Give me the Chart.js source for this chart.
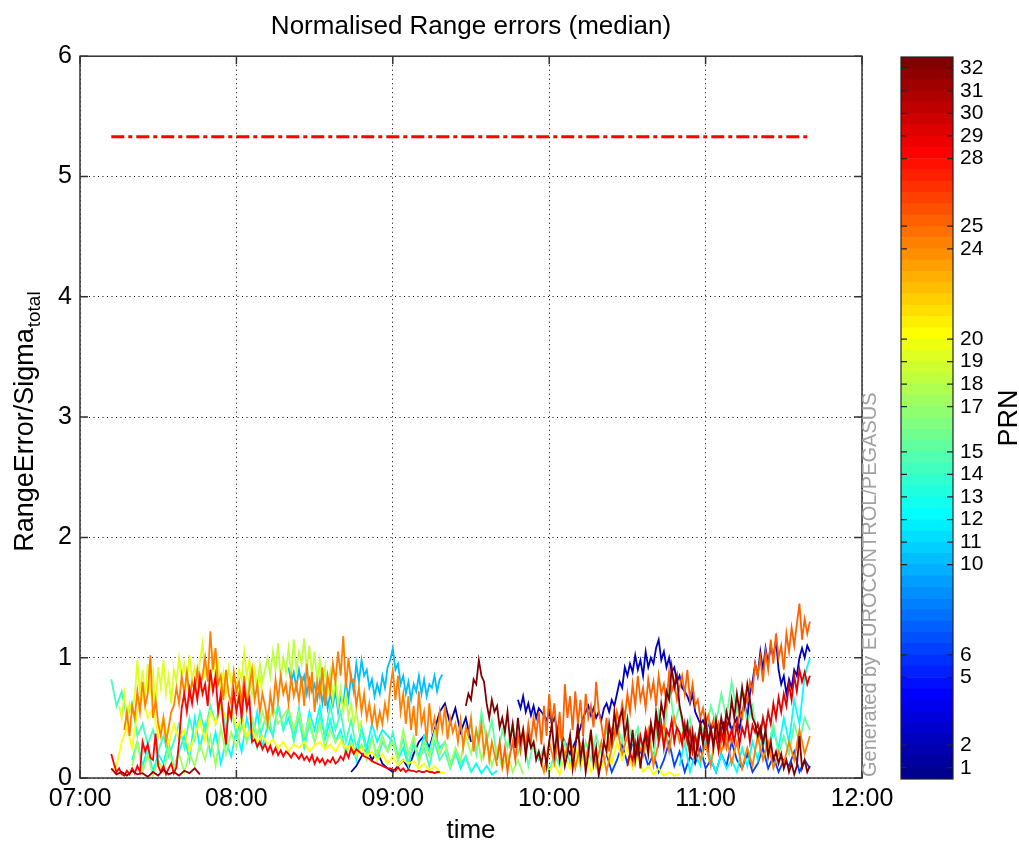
<!DOCTYPE html>
<html>
<head>
<meta charset="utf-8">
<script src="https://cdn.jsdelivr.net/npm/chart.js@4.4.1/dist/chart.umd.min.js"></script>
<style>
  body { margin: 0; background: #fff; }
  #wrap { position: relative; width: 1019px; height: 846px; }
  #wrap canvas { position: absolute; left: 0; top: 0; }
</style>
</head>
<body>
<div id="wrap">
  <canvas id="grafico" width="1019" height="846"></canvas>
  <canvas id="barra" width="1019" height="846"></canvas>
</div>
<script>
// tempos em minutos depois das 07:00
const prnTicks = [1, 2, 5, 6, 10, 11, 12, 13, 14, 15, 17, 18, 19, 20, 24, 25, 28, 29, 30, 31, 32];
const threshold = [5.33, 5.33];
const thresholdTimes = [12, 279];

// PRN 28, 07:12 - 09:18, 1 min
const prn28 = [0.2, 0.12, 0.05, 0.08, 0.03,
  0.02, 0.06, 0.03, 0.08, 0.04, 0.1, 0.05,
  0.3, 0.22, 0.28, 0.17, 0.15, 0.37, 0.1,
  0.05, 0.1, 0.03, 0.08, 0.12, 0.04, 0.09,
  0.3, 0.58, 0.7, 0.55, 0.74, 0.62,
  0.8, 0.65, 0.84, 0.7, 0.78,
  0.6, 0.9, 0.72, 0.85, 0.55,
  0.7, 0.45, 0.28, 0.6, 0.5,
  0.72, 0.55, 0.68, 0.5, 0.75, 0.58, 0.66, 0.3,
  0.32, 0.26, 0.3, 0.24, 0.28, 0.22, 0.27, 0.2, 0.25, 0.19, 0.23, 0.18, 0.22, 0.2, 0.17, 0.21, 0.19, 0.16,
  0.2, 0.15, 0.18, 0.14, 0.19, 0.12, 0.17, 0.13, 0.16, 0.11, 0.15, 0.13, 0.17, 0.12, 0.14, 0.18, 0.15, 0.22, 0.17, 0.25, 0.2, 0.24,
  0.22, 0.2, 0.18, 0.17, 0.16, 0.14, 0.13, 0.12, 0.11, 0.1, 0.09, 0.08, 0.08, 0.07,
  0.06, 0.09, 0.06, 0.08, 0.05, 0.07, 0.06, 0.06, 0.05, 0.06, 0.05, 0.05, 0.06, 0.05, 0.05, 0.04, 0.05, 0.05];

// PRN 24, 07:17 - 09:40, 1 min
const prn24 = [0.4, 0.55, 0.35, 0.6, 0.5,
  0.72, 0.55, 0.8, 0.6, 0.7, 1.02, 0.5, 0.65,
  0.45, 0.35, 0.5, 0.3, 0.42, 0.55, 0.6,
  0.75, 0.62, 0.85, 0.7, 0.88, 0.68, 0.8, 0.72, 0.9, 0.75,
  0.85, 1.0, 0.8, 1.22, 0.9, 1.08, 0.78,
  0.85, 0.65, 0.9, 0.7, 0.62, 0.88, 0.72,
  0.8, 0.62, 0.85, 0.58, 0.75, 0.9, 0.65, 0.78, 0.55, 0.7, 0.6, 0.45,
  0.7, 0.55, 0.82, 0.65, 0.85, 0.7, 0.78, 0.62, 0.84, 0.68, 0.78, 0.64,
  0.85, 0.6, 0.95, 0.7, 0.88, 0.55, 0.8, 0.68, 0.92, 0.6, 0.85, 0.72, 0.95,
  0.8, 1.05, 0.85, 1.18, 0.75, 1.0, 0.8,
  0.82, 0.6, 0.75, 0.55, 0.7, 0.5, 0.62, 0.45, 0.58, 0.42,
  0.55, 0.45, 0.62, 0.5, 0.75, 0.9, 0.65, 0.85, 0.55, 0.7,
  0.45, 0.68, 0.4, 0.6, 0.35, 0.72, 0.45, 0.55, 0.3, 0.62, 0.4, 0.5, 0.35,
  0.55, 0.4, 0.6, 0.32, 0.5, 0.38, 0.45,
  0.3, 0.48, 0.25, 0.42, 0.35, 0.5, 0.22, 0.4, 0.3, 0.45, 0.2,
  0.35, 0.15, 0.3, 0.2, 0.1];

// PRN 24, 09:56 - 11:40, 2 min
const prn24b = [0.2, 0.05, 0.3, 0.12, 0.4, 0.18, 0.35, 0.08, 0.28, 0.15,
  0.38, 0.1, 0.3, 0.05, 0.25, 0.42, 0.2, 0.35, 0.12, 0.3,
  0.18, 0.4, 0.1, 0.3, 0.45, 0.22, 0.5, 0.3, 0.42, 0.2,
  0.35, 0.15, 0.28, 0.1, 0.4, 0.22, 0.35, 0.12, 0.3, 0.08,
  0.25, 0.1, 0.35, 0.15, 0.3, 0.08, 0.22, 0.12, 0.3, 0.15,
  0.4, 0.2, 0.35];

// PRN 19, 07:15 - 08:10, 1 min
const prn19 = [0.6, 0.5, 0.7, 0.48, 0.62, 0.55, 0.68,
  0.98, 0.7, 0.9,
  0.65, 0.95, 0.72, 0.88, 0.6, 0.92, 0.75, 0.98, 0.7, 0.85, 0.62, 0.9,
  0.8, 1.0, 0.85, 0.95, 0.78, 1.02, 0.82, 0.92, 0.8, 0.97, 1.12, 0.85,
  0.9, 0.78, 1.05, 0.82, 0.95, 0.75, 0.88, 0.7, 0.92, 0.8, 0.85, 0.75,
  0.9, 0.82, 1.05, 0.85, 0.98, 0.8, 0.9, 0.72, 0.85, 0.7];

// PRN 18, 08:00 - 08:48, 1 min
const prn18 = [0.6, 0.75, 0.55, 0.8, 0.65, 0.85, 0.7, 0.9, 0.75, 0.95, 0.8,
  0.9, 1.0, 0.85, 1.05, 0.9, 1.12, 0.82, 1.0, 0.88, 1.08, 0.85, 1.15, 0.9, 1.05,
  0.95, 1.16, 0.9, 1.1, 0.85, 1.05, 0.8, 0.98, 0.75, 0.92, 0.7, 0.88, 0.65,
  0.82, 0.6, 0.75, 0.55, 0.7, 0.5, 0.62, 0.45, 0.55, 0.4, 0.48];

// PRN 10, 08:20 - 09:19, 1 min
const prn10 = [0.92, 0.8, 0.88, 0.75, 0.9, 0.78, 0.85, 0.7, 0.82, 0.72,
  0.78, 0.65, 0.8, 0.62, 0.75, 0.58, 0.7, 0.6, 0.72, 0.55,
  0.68, 0.6, 0.8, 0.65, 0.85, 0.72, 0.95, 0.8, 0.98, 0.85,
  0.9, 0.75, 0.82, 0.68, 0.78, 0.7, 0.85, 0.75, 0.92, 0.98,
  1.08, 0.9, 0.95, 0.78, 0.85, 0.7, 0.8, 0.65, 0.78, 0.72,
  0.85, 0.7, 0.82, 0.68, 0.78, 0.75, 0.85, 0.72, 0.82, 0.86];

// PRN 14, 07:12 - 09:30, 2 min
const prn14 = [0.82, 0.6, 0.72, 0.5, 0.62, 0.35, 0.45, 0.28, 0.4, 0.22,
  0.35, 0.18, 0.3, 0.45, 0.25, 0.5, 0.32, 0.55, 0.38, 0.6,
  0.45, 0.65, 0.4, 0.58, 0.35, 0.52, 0.3, 0.48, 0.25, 0.42,
  0.55, 0.35, 0.62, 0.4, 0.58, 0.3, 0.5, 0.25, 0.45, 0.3,
  0.52, 0.35, 0.6, 0.4, 0.55, 0.3, 0.48, 0.25, 0.4, 0.2,
  0.35, 0.15, 0.3, 0.22, 0.38, 0.18, 0.32, 0.12, 0.28, 0.15,
  0.25, 0.1, 0.3, 0.15, 0.22, 0.08, 0.2, 0.12, 0.18, 0.05];

// PRN 12, 07:20 - 09:40, 2 min
const prn12 = [0.15, 0.3, 0.1, 0.25, 0.05, 0.2, 0.12, 0.3, 0.08, 0.22,
  0.35, 0.15, 0.5, 0.25, 0.45, 0.2, 0.38, 0.12, 0.3, 0.18,
  0.4, 0.22, 0.5, 0.3, 0.55, 0.25, 0.45, 0.35, 0.6, 0.4,
  0.5, 0.35, 0.58, 0.3, 0.55, 0.4, 0.6, 0.32, 0.48, 0.3,
  0.4, 0.2, 0.35, 0.15, 0.42, 0.25, 0.45, 0.3, 0.4, 0.35,
  0.3, 0.15, 0.25, 0.1, 0.3, 0.18, 0.35, 0.22, 0.38, 0.25,
  0.3, 0.12, 0.22, 0.08, 0.18, 0.05, 0.12, 0.04, 0.1, 0.03, 0.06];

// PRN 12, 10:50 - 11:40, 2 min
const prn12b = [0.1, 0.3, 0.05, 0.2, 0.1, 0.35, 0.15, 0.05, 0.2, 0.08,
  0.15, 0.05, 0.25, 0.1, 0.3, 0.15, 0.35, 0.2, 0.4, 0.25,
  0.5, 0.3, 0.65, 0.45, 0.85, 1.0];

// PRN 20, 07:12 - 09:20, 2 min
const prn20 = [0.05, 0.1, 0.3, 0.42, 0.25, 0.55, 0.68, 0.5, 0.58, 0.35,
  0.5, 0.28, 0.45, 0.32, 0.4, 0.22, 0.35, 0.48, 0.3, 0.55,
  0.45, 0.6, 0.5, 0.58, 0.42, 0.5, 0.35, 0.4, 0.3, 0.35,
  0.28, 0.32, 0.25, 0.3, 0.22, 0.28, 0.25, 0.3, 0.22, 0.27,
  0.3, 0.24, 0.28, 0.22, 0.3, 0.25, 0.27, 0.2, 0.25, 0.18,
  0.22, 0.15, 0.2, 0.12, 0.18, 0.1, 0.15, 0.12, 0.14, 0.08,
  0.12, 0.06, 0.1, 0.05, 0.04];

// PRN 20, 10:00 - 10:50, 2 min
const prn20b = [0.05, 0.12, 0.03, 0.18, 0.08, 0.25, 0.1, 0.2, 0.05, 0.15,
  0.08, 0.22, 0.12, 0.3, 0.15, 0.25, 0.08, 0.18, 0.05, 0.1,
  0.03, 0.08, 0.02, 0.05, 0.02, 0.03];

// PRN 31, 07:12 - 07:46, 2 min
const prn31 = [0.08, 0.03, 0.05, 0.02, 0.06, 0.03, 0.04, 0.01, 0.05, 0.02,
  0.07, 0.03, 0.05, 0.02, 0.06, 0.04, 0.08, 0.03];

// PRN 32, 09:28 - 11:40, 1 min
const prn32 = [0.6, 0.7, 0.65, 0.82, 0.78, 0.98, 0.85, 0.8, 0.62, 0.5,
  0.65, 0.55, 0.6, 0.42, 0.5, 0.38, 0.55, 0.3, 0.45, 0.25,
  0.5, 0.3, 0.4, 0.18, 0.35, 0.25, 0.3, 0.15, 0.22, 0.12,
  0.25, 0.1, 0.3, 0.45, 0.2, 0.38, 0.15, 0.28, 0.1, 0.2,
  0.35, 0.08, 0.25, 0.45, 0.15, 0.3, 0.05, 0.2, 0.4, 0.12,
  0.25, 0.02, 0.15, 0.3, 0.22, 0.45, 0.3, 0.55, 0.38, 0.5,
  0.56, 0.35, 0.48, 0.2, 0.4, 0.15, 0.32, 0.08, 0.28, 0.35,
  0.2, 0.45, 0.3, 0.55, 0.4, 0.62, 0.5, 0.72, 0.65, 0.92,
  0.75, 0.85, 0.6, 0.5, 0.35, 0.45, 0.2, 0.38, 0.15, 0.3,
  0.45, 0.28, 0.5, 0.3, 0.42, 0.25, 0.48, 0.32, 0.5, 0.38,
  0.55, 0.45, 0.65, 0.5, 0.7, 0.55, 0.75, 0.6, 0.78, 0.65,
  0.5, 0.45, 0.35, 0.42, 0.28, 0.4, 0.18, 0.3, 0.15, 0.22,
  0.12, 0.2, 0.08, 0.15, 0.05, 0.12, 0.03, 0.1, 0.35, 0.08, 0.15, 0.05, 0.1];

// PRN 2, 09:48 - 11:40, 1 min
const prn2 = [0.65, 0.58, 0.68, 0.55, 0.62, 0.52, 0.6, 0.5, 0.58, 0.55,
  0.52, 0.48, 0.55, 0.45, 0.5, 0.42, 0.4, 0.35, 0.3, 0.25,
  0.2, 0.25, 0.3, 0.35, 0.42, 0.5, 0.55, 0.6, 0.52, 0.58,
  0.5, 0.55, 0.48, 0.58, 0.62, 0.55, 0.65, 0.6, 0.7, 0.8,
  0.75, 0.92, 0.85, 0.95, 0.88, 1.02, 0.9, 0.98, 0.85, 1.05,
  0.92, 1.0, 0.95, 1.08, 1.15, 0.98, 1.05, 0.92, 1.0, 0.88,
  0.92, 0.8, 0.85, 0.75, 0.72, 0.68, 0.62, 0.7, 0.55, 0.5,
  0.45, 0.48, 0.42, 0.45, 0.4, 0.44, 0.38, 0.45, 0.4, 0.46,
  0.42, 0.48, 0.4, 0.45, 0.5, 0.4, 0.55, 0.62, 0.5, 0.7,
  0.8, 0.95, 0.85, 1.05, 0.9, 1.08, 0.95, 1.1, 1.0, 1.15,
  0.9, 0.78, 0.85, 0.7, 0.82, 0.75, 0.9, 0.85, 1.0, 1.08,
  1.0, 1.1, 1.05];

// PRN 25, 09:40 - 11:40, 1 min
const prn25 = [0.15, 0.3, 0.1, 0.25, 0.05, 0.2, 0.3, 0.15, 0.35, 0.22,
  0.4, 0.25, 0.45, 0.3, 0.5, 0.35, 0.55, 0.28, 0.6, 0.35,
  0.7, 0.45, 0.62, 0.3, 0.55, 0.25, 0.78, 0.5, 0.68, 0.4,
  0.72, 0.45, 0.65, 0.35, 0.7, 0.5, 0.6, 0.42, 0.8, 0.55,
  0.45, 0.3, 0.5, 0.22, 0.4, 0.35, 0.55, 0.45, 0.62, 0.5,
  0.7, 0.55, 0.78, 0.6, 0.85, 0.65, 0.75, 0.58, 0.82, 0.68,
  0.8, 0.6, 0.85, 0.7, 0.78, 0.62, 0.88, 0.72, 0.8, 0.65,
  0.75, 0.85, 0.7, 0.9, 0.65, 0.78, 0.6, 0.65, 0.5, 0.58,
  0.45, 0.52, 0.4, 0.48, 0.35, 0.45, 0.3, 0.38, 0.25, 0.35,
  0.3, 0.45, 0.4, 0.55, 0.5, 0.68, 0.62, 0.8, 0.72, 0.95,
  0.85, 1.0, 0.8, 1.05, 0.9, 1.15, 0.95, 1.2, 1.0, 1.1,
  0.9, 1.2, 1.05, 1.25, 1.1, 1.28, 1.45, 1.15, 1.32, 1.2, 1.3];

// PRN 29, 10:30 - 11:40, 1 min
const prn29 = [0.1, 0.2, 0.15, 0.3, 0.2, 0.35, 0.25, 0.4, 0.3, 0.45,
  0.35, 0.5, 0.3, 0.45, 0.25, 0.4, 0.35, 0.48, 0.3, 0.42,
  0.38, 0.28, 0.45, 0.3, 0.4, 0.22, 0.35, 0.25, 0.42, 0.3,
  0.38, 0.25, 0.4, 0.3, 0.35, 0.22, 0.4, 0.28, 0.45, 0.32,
  0.4, 0.3, 0.45, 0.28, 0.42, 0.35, 0.48, 0.3, 0.44, 0.38,
  0.45, 0.35, 0.5, 0.4, 0.55, 0.45, 0.62, 0.5, 0.67, 0.55,
  0.7, 0.6, 0.78, 0.65, 0.85, 0.72, 0.9, 0.8, 0.88, 0.78, 0.85];

// PRN 15, 09:30 - 11:40, 2 min
const prn15 = [0.45, 0.2, 0.55, 0.3, 0.48, 0.15, 0.4, 0.25, 0.45, 0.2,
  0.35, 0.1, 0.3, 0.15, 0.25, 0.05, 0.2, 0.1, 0.3, 0.12,
  0.25, 0.08, 0.3, 0.15, 0.35, 0.2, 0.4, 0.25, 0.45, 0.3,
  0.5, 0.3, 0.42, 0.2, 0.35, 0.15, 0.55, 0.3, 0.8, 0.45,
  0.6, 0.3, 0.5, 0.25, 0.45, 0.35, 0.6, 0.45, 0.7, 0.5,
  0.8, 0.55, 0.75, 0.45, 0.6, 0.3, 0.5, 0.25, 0.45, 0.2,
  0.35, 0.2, 0.45, 0.3, 0.5, 0.4];

// PRN 17, 07:20 - 09:50, 2 min
const prn17 = [0.1, 0.3, 0.05, 0.2, 0.02, 0.15, 0.05, 0.25, 0.08, 0.2,
  0.05, 0.2, 0.1, 0.28, 0.15, 0.35, 0.1, 0.42, 0.2, 0.38,
  0.25, 0.45, 0.3, 0.5, 0.35, 0.55, 0.4, 0.6, 0.45, 0.52,
  0.58, 0.4, 0.55, 0.35, 0.5, 0.3, 0.45, 0.25, 0.4, 0.3,
  0.35, 0.2, 0.3, 0.18, 0.28, 0.15, 0.32, 0.2, 0.35, 0.22,
  0.3, 0.15, 0.4, 0.2, 0.35, 0.12, 0.3, 0.18, 0.38, 0.2,
  0.3, 0.1, 0.25, 0.15, 0.35, 0.2, 0.4, 0.15, 0.3, 0.1,
  0.25, 0.08, 0.2, 0.05, 0.15, 0.03];

// PRN 1, 08:44 - 09:30, 2 min
const prn1 = [0.05, 0.1, 0.18, 0.25, 0.15, 0.22, 0.12, 0.08, 0.05, 0.1,
  0.15, 0.08, 0.2, 0.3, 0.35, 0.25, 0.4, 0.55, 0.62, 0.45,
  0.58, 0.38, 0.5, 0.3];

// PRN 6, 10:20 - 11:40, 2 min
const prn6 = [0.1, 0.2, 0.05, 0.15, 0.28, 0.12, 0.3, 0.18, 0.25, 0.1,
  0.2, 0.05, 0.15, 0.3, 0.1, 0.22, 0.05, 0.18, 0.12, 0.25,
  0.08, 0.15, 0.05, 0.2, 0.1, 0.3, 0.15, 0.08, 0.2, 0.05,
  0.12, 0.25, 0.08, 0.18, 0.05, 0.15, 0.1, 0.22, 0.05, 0.15, 0.08];

// prn, início (min depois das 07:00), passo (min), valores; PRN maior fica por cima
const series = [
  [32, 148, 1, prn32],
  [31, 12, 2, prn31],
  [29, 210, 1, prn29],
  [28, 12, 1, prn28],
  [25, 160, 1, prn25],
  [24, 17, 1, prn24],
  [24, 176, 2, prn24b],
  [20, 12, 2, prn20],
  [20, 180, 2, prn20b],
  [19, 15, 1, prn19],
  [18, 60, 1, prn18],
  [17, 20, 2, prn17],
  [15, 150, 2, prn15],
  [14, 12, 2, prn14],
  [12, 20, 2, prn12],
  [12, 230, 2, prn12b],
  [10, 80, 1, prn10],
  [6, 200, 2, prn6],
  [2, 168, 1, prn2],
  [1, 104, 2, prn1]
];

const FONTE = '"Liberation Sans", Arial, Helvetica, sans-serif';
Chart.defaults.font.family = FONTE;
Chart.defaults.color = '#000';

function jet(t) {
    const c = v => Math.round(255 * Math.max(0, Math.min(1, v)));
    const r = Math.min(4 * t - 1.5, -4 * t + 4.5);
    const g = Math.min(4 * t - 0.5, -4 * t + 3.5);
    const b = Math.min(4 * t + 0.5, -4 * t + 2.5);
    return 'rgb(' + c(r) + ',' + c(g) + ',' + c(b) + ')';
}
function corPrn(p) { return jet(p / 32); }

const datasets = [{
    data: thresholdTimes.map((t, i) => ({ x: 420 + t, y: threshold[i] })),
    borderColor: '#ff0000',
    borderWidth: 3,
    borderDash: [13, 4, 4, 4]
}];
series.forEach(s => {
    datasets.push({
        data: s[3].map((v, i) => ({ x: 420 + s[1] + i * s[2], y: v })),
        borderColor: corPrn(s[0]),
        borderWidth: 1.8
    });
});

// moldura, marcas internas e textos
const moldura = {
    id: 'moldura',
    afterDraw(chart) {
        const { ctx, chartArea: a, scales } = chart;
        const x = scales.x, y = scales.y;
        ctx.save();
        ctx.strokeStyle = '#333';
        ctx.lineWidth = 1.5;
        ctx.strokeRect(a.left, a.top, a.right - a.left, a.bottom - a.top);
        ctx.beginPath();
        x.ticks.forEach(t => {
            const px = x.getPixelForValue(t.value);
            ctx.moveTo(px, a.bottom); ctx.lineTo(px, a.bottom - 8);
            ctx.moveTo(px, a.top); ctx.lineTo(px, a.top + 8);
        });
        y.ticks.forEach(t => {
            const py = y.getPixelForValue(t.value);
            ctx.moveTo(a.left, py); ctx.lineTo(a.left + 8, py);
            ctx.moveTo(a.right, py); ctx.lineTo(a.right - 8, py);
        });
        ctx.stroke();

        // RangeError/Sigma_total
        ctx.save();
        ctx.translate(33, (a.top + a.bottom) / 2 + 5);
        ctx.rotate(-Math.PI / 2);
        ctx.fillStyle = '#000';
        ctx.textAlign = 'left';
        ctx.textBaseline = 'alphabetic';
        ctx.font = '27px ' + FONTE;
        const w1 = ctx.measureText('RangeError/Sigma').width;
        ctx.font = '19px ' + FONTE;
        const w2 = ctx.measureText('total').width;
        const ini = -(w1 + w2) / 2;
        ctx.font = '27px ' + FONTE;
        ctx.fillText('RangeError/Sigma', ini, 0);
        ctx.font = '19px ' + FONTE;
        ctx.fillText('total', ini + w1 + 1, 7);
        ctx.restore();

        ctx.save();
        ctx.translate(876, a.bottom - 1);
        ctx.rotate(-Math.PI / 2);
        ctx.fillStyle = '#a0a0a0';
        ctx.textAlign = 'left';
        ctx.font = '20px ' + FONTE;
        ctx.fillText('Generated by EUROCONTROL/PEGASUS', 0, 0);
        ctx.restore();
        ctx.restore();
    }
};

new Chart(document.getElementById('grafico').getContext('2d'), {
    type: 'line',
    data: { datasets: datasets },
    plugins: [moldura],
    options: {
        responsive: false,
        animation: false,
        layout: { padding: { left: 0, right: 157, top: 0, bottom: 0 } },
        elements: { point: { radius: 0 }, line: { tension: 0 } },
        plugins: {
            legend: { display: false },
            tooltip: { enabled: false },
            title: {
                display: true,
                fullSize: false,
                text: 'Normalised Range errors (median)',
                color: '#000',
                font: { size: 26, weight: 'normal' },
                padding: { top: 11, bottom: 14 }
            }
        },
        scales: {
            x: {
                type: 'linear',
                min: 420,
                max: 720,
                afterBuildTicks: s => { s.ticks = [420, 480, 540, 600, 660, 720].map(v => ({ value: v })); },
                afterFit: s => { s.height = 68; },
                ticks: {
                    font: { size: 25 },
                    padding: 6,
                    maxRotation: 0,
                    callback: v => String(v / 60).padStart(2, '0') + ':00'
                },
                grid: { color: '#000', lineWidth: 1, drawTicks: false },
                border: { display: false, dash: [1, 3.5] },
                title: { display: true, text: 'time', font: { size: 26 }, padding: { top: 0, bottom: 0 } }
            },
            y: {
                min: 0,
                max: 6,
                afterFit: s => { s.width = 80; },
                ticks: { stepSize: 1, font: { size: 25 }, padding: 8 },
                grid: { color: '#000', lineWidth: 1, drawTicks: false },
                border: { display: false, dash: [1, 3.5] }
            }
        }
    }
});

// barra de cores (jet, 64 níveis)
const niveis = [];
for (let i = 0; i < 64; i++) {
    niveis.push({ lo: 0.5 + i * 0.5, hi: 1 + i * 0.5, cor: jet((i + 1) / 64) });
}

const molduraBarra = {
    id: 'molduraBarra',
    afterDraw(chart) {
        const { ctx, chartArea: a } = chart;
        const y = chart.scales.y;
        ctx.save();
        ctx.strokeStyle = '#222';
        ctx.lineWidth = 1.2;
        ctx.strokeRect(a.left, a.top, a.right - a.left, a.bottom - a.top);
        ctx.beginPath();
        y.ticks.forEach(t => {
            const py = y.getPixelForValue(t.value);
            ctx.moveTo(a.left, py); ctx.lineTo(a.left + 6, py);
            ctx.moveTo(a.right, py); ctx.lineTo(a.right - 6, py);
        });
        ctx.stroke();
        ctx.translate(1017, (a.top + a.bottom) / 2 + 0);
        ctx.rotate(-Math.PI / 2);
        ctx.fillStyle = '#000';
        ctx.textAlign = 'center';
        ctx.font = '27px ' + FONTE;
        ctx.fillText('PRN', 0, 0);
        ctx.restore();
    }
};

new Chart(document.getElementById('barra').getContext('2d'), {
    type: 'bar',
    data: {
        labels: ['PRN'],
        datasets: niveis.map(n => ({
            data: [[n.lo, n.hi]],
            backgroundColor: n.cor,
            borderWidth: 0,
            grouped: false,
            barPercentage: 1,
            categoryPercentage: 1
        }))
    },
    plugins: [molduraBarra],
    options: {
        responsive: false,
        animation: false,
        layout: { padding: { left: 901, top: 57, bottom: 67, right: 0 } },
        plugins: { legend: { display: false }, tooltip: { enabled: false } },
        scales: {
            x: { display: false },
            y: {
                position: 'right',
                min: 0.5,
                max: 32.5,
                afterBuildTicks: s => { s.ticks = prnTicks.map(v => ({ value: v })); },
                afterFit: s => { s.width = 66; },
                ticks: { font: { size: 21 }, padding: 7 },
                grid: { display: false, drawTicks: false },
                border: { display: false }
            }
        }
    }
});
</script>
</body>
</html>
